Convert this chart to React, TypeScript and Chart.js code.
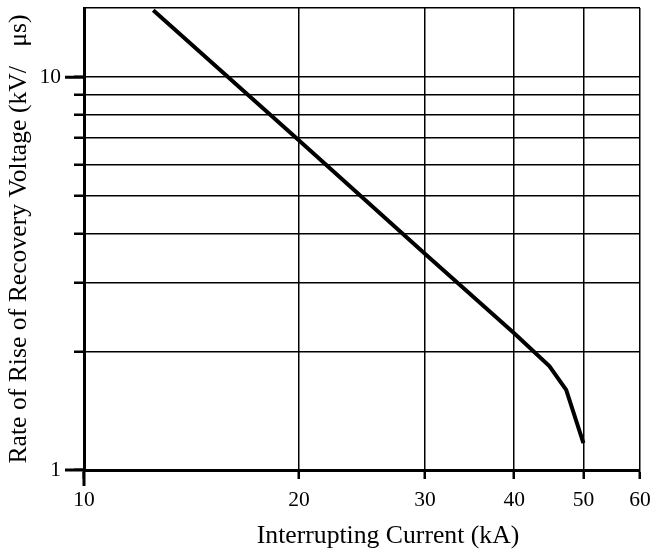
import React, { useEffect, useRef } from "react";
import { Chart, registerables } from "chart.js";

Chart.register(...registerables);

const currentKA = [12.5, 20, 30, 40, 44.8, 47.3, 50];
const rrrvKVus = [14.8, 6.9, 3.55, 2.23, 1.84, 1.6, 1.17];
const xTickValues = [10, 20, 30, 40, 50, 60];
const yTickValues = [1, 2, 3, 4, 5, 6, 7, 8, 9, 10, 15];
const yLabeled = [1, 10];
const xTitle = "Interrupting Current (kA)";
const yTitle = "Rate of Rise of Recovery Voltage (kV/   μs)";

const FONT = '"Liberation Serif", "Times New Roman", serif';
const TITLE_SIZE = 25.7;
const TICK_SIZE = 21.5;

const extras = {
  id: "extras",
  afterDraw(chart: any) {
    const { ctx, chartArea } = chart;
    const ys = chart.scales.y;
    ctx.save();
    ctx.strokeStyle = "#000";
    ctx.lineWidth = 3;
    ctx.beginPath();
    yLabeled.forEach((v) => {
      const py = ys.getPixelForValue(v);
      ctx.moveTo(chartArea.left - 19, py);
      ctx.lineTo(chartArea.left, py);
    });
    ctx.moveTo(chartArea.left, chartArea.bottom);
    ctx.lineTo(chartArea.left, chartArea.bottom + 16);
    ctx.stroke();
    // x-axis title
    ctx.fillStyle = "#000";
    ctx.font = `${TITLE_SIZE}px ${FONT}`;
    ctx.textAlign = "center";
    ctx.textBaseline = "middle";
    const cx = (chartArea.left + chartArea.right) / 2 + 26;
    ctx.fillText(xTitle, cx, chart.height - 15);
    ctx.restore();
  },
};

export default function App() {
  const ref = useRef<HTMLCanvasElement | null>(null);
  useEffect(() => {
    if (!ref.current) return;
    const chart = new Chart(ref.current, {
      type: "scatter",
      data: {
        datasets: [
          {
            data: currentKA.map((x, i) => ({ x, y: rrrvKVus[i] })),
            showLine: true,
            borderColor: "#000",
            borderWidth: 4,
            pointRadius: 0,
            fill: false,
          },
        ],
      },
      options: {
        animation: false,
        responsive: false,
        layout: { padding: { top: 8, right: 15, left: 0, bottom: 0 } },
        plugins: { legend: { display: false }, tooltip: { enabled: false } },
        scales: {
          x: {
            type: "logarithmic",
            min: 10,
            max: 60,
            afterBuildTicks: (s: any) => {
              s.ticks = xTickValues.map((v) => ({ value: v }));
            },
            afterFit: (s: any) => {
              s.height = 81;
              s.paddingLeft = 0;
              s.paddingRight = 0;
            },
            ticks: {
              autoSkip: false,
              maxRotation: 0,
              padding: 8,
              color: "#000",
              font: { family: FONT, size: TICK_SIZE },
              callback: (v: any) => String(v),
            },
            grid: {
              color: "#000",
              lineWidth: 1.5,
              tickLength: 9,
              tickWidth: 2.5,
              tickColor: "#000",
            },
            border: { color: "#000", width: 3 },
            title: { display: false },
          },
          y: {
            type: "logarithmic",
            min: 1,
            max: 15,
            afterBuildTicks: (s: any) => {
              s.ticks = yTickValues.map((v) => ({ value: v }));
            },
            afterFit: (s: any) => {
              s.width = 84;
              s.paddingTop = 0;
              s.paddingBottom = 0;
            },
            ticks: {
              autoSkip: false,
              padding: 13,
              color: "#000",
              font: { family: FONT, size: TICK_SIZE },
              callback: (v: any) => (yLabeled.includes(Number(v)) ? String(v) : ""),
            },
            grid: {
              color: "#000",
              lineWidth: 1.5,
              tickLength: 10,
              tickWidth: 2.5,
              tickColor: (c: any) => (c.tick && c.tick.value === 15 ? "rgba(0,0,0,0)" : "#000"),
            },
            border: { color: "#000", width: 3 },
            title: {
              display: true,
              text: yTitle,
              color: "#000",
              font: { family: FONT, size: TITLE_SIZE, lineHeight: 1.2 },
              padding: { top: 4, bottom: 0 },
            },
          },
        },
      },
      plugins: [extras],
    });
    return () => chart.destroy();
  }, []);
  return (
    <div style={{ position: "fixed", left: 0, top: 0, width: 655, height: 551, background: "#fff" }}>
      <canvas ref={ref} width={655} height={551} />
    </div>
  );
}
